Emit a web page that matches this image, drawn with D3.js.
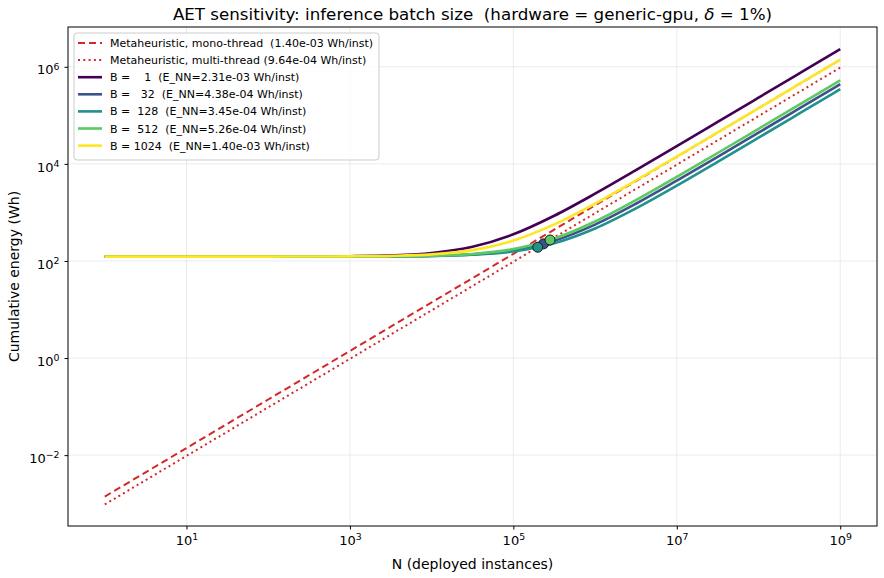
<!DOCTYPE html>
<html>
<head>
<meta charset="utf-8">
<script src="https://cdn.jsdelivr.net/npm/d3@7"></script>
<style>
  body { margin: 0; background: #fff; }
  svg { font-family: "DejaVu Sans", sans-serif; }
  .grid line { stroke: #e6e6e6; stroke-width: 0.8; }
</style>
</head>
<body>
<svg id="chart"></svg>
<script>
// half-decade sample points of N
const nVals = [1, 3.162, 10, 31.62, 100, 316.2, 1000, 3162, 1e4, 3.162e4, 1e5, 3.162e5, 1e6, 3.162e6, 1e7, 3.162e7, 1e8, 3.162e8, 1e9];

const monoVals  = [0.0014, 0.004427, 0.014, 0.04427, 0.14, 0.4427, 1.4, 4.427, 14, 44.27, 140, 442.7, 1400, 4427, 14000, 44272, 140000, 442719, 1400000];
const multiVals = [0.000964, 0.003048, 0.00964, 0.03048, 0.0964, 0.3048, 0.964, 3.048, 9.64, 30.48, 96.4, 304.8, 964, 3048, 9640, 30484, 96400, 304844, 964000];
const b1Vals    = [123, 123.01, 123.02, 123.07, 123.23, 123.73, 125.3, 130.3, 146.1, 196, 354, 853.5, 2433, 7428, 23223, 73171, 231123, 730597, 2310123];
const b32Vals   = [123, 123, 123, 123.01, 123.04, 123.14, 123.44, 124.39, 127.38, 136.85, 166.8, 261.5, 561, 1508, 4503, 13974, 43923, 138631, 438123];
const b128Vals  = [123, 123, 123, 123.01, 123.03, 123.11, 123.35, 124.09, 126.45, 133.9, 157.5, 232.1, 468, 1214, 3573, 11033, 34623, 109222, 345123];
const b512Vals  = [123, 123, 123.01, 123.02, 123.05, 123.17, 123.53, 124.66, 128.26, 139.6, 175.6, 289.3, 649, 1786, 5383, 16757, 52723, 166459, 526123];
const b1024Vals = [123, 123, 123.01, 123.04, 123.14, 123.44, 124.4, 127.4, 137, 167.3, 263, 565.7, 1523, 4550, 14123, 44395, 140123, 442842, 1400123];

const seriesNames = [
  "Metaheuristic, mono-thread  (1.40e-03 Wh/inst)",
  "Metaheuristic, multi-thread (9.64e-04 Wh/inst)",
  "B =    1  (E_NN=2.31e-03 Wh/inst)",
  "B =   32  (E_NN=4.38e-04 Wh/inst)",
  "B =  128  (E_NN=3.45e-04 Wh/inst)",
  "B =  512  (E_NN=5.26e-04 Wh/inst)",
  "B = 1024  (E_NN=1.40e-03 Wh/inst)"
];
const seriesVals = [monoVals, multiVals, b1Vals, b32Vals, b128Vals, b512Vals, b1024Vals];
const seriesColors = ["#d62728", "#d62728", "#440154", "#3b528b", "#21918c", "#5ec962", "#fde725"];
const seriesDash = ["7,4", "2,3.3", null, null, null, null, null];

// break-even points against multi-thread (N, E)
const crossLabels = ["B = 32", "B = 128", "B = 512"];
const crossN = [2.34e5, 1.99e5, 2.81e5];
const crossE = [225, 191.6, 270.6];
const crossColors = ["#3b528b", "#21918c", "#5ec962"];

const xTicks = [1e1, 1e3, 1e5, 1e7, 1e9];
const yTicks = [1e-2, 1e0, 1e2, 1e4, 1e6];

const W = 884, H = 578;
const margin = {top: 27, right: 7, bottom: 52, left: 68};
const width = W - margin.left - margin.right;
const height = H - margin.top - margin.bottom;

const svg = d3.select("#chart").attr("width", W).attr("height", H);

const x = d3.scaleLog().domain([Math.pow(10, -0.45), Math.pow(10, 9.45)]).range([0, width]);
const y = d3.scaleLog().domain([Math.pow(10, -3.46), Math.pow(10, 6.82)]).range([height, 0]);

const g = svg.append("g").attr("transform", "translate(" + margin.left + "," + margin.top + ")");

// grid
const grid = g.append("g").attr("class", "grid");
grid.selectAll(".vx").data(xTicks).join("line")
  .attr("x1", d => x(d)).attr("x2", d => x(d)).attr("y1", 0).attr("y2", height);
grid.selectAll(".hy").data(yTicks).join("line")
  .attr("y1", d => y(d)).attr("y2", d => y(d)).attr("x1", 0).attr("x2", width);

const clip = g.append("clipPath").attr("id", "clip").append("rect").attr("width", width).attr("height", height);
const plot = g.append("g").attr("clip-path", "url(#clip)");

const line = d3.line()
  .x(d => x(d[0])).y(d => y(d[1]))
  .curve(d3.curveMonotoneX);

seriesVals.forEach(function(vals, i) {
  plot.append("path")
    .datum(nVals.map((n, j) => [n, vals[j]]))
    .attr("fill", "none")
    .attr("stroke", seriesColors[i])
    .attr("stroke-width", i < 2 ? 2 : 2.6)
    .attr("stroke-dasharray", seriesDash[i])
    .attr("d", line);
});

plot.selectAll("circle").data(crossN).join("circle")
  .attr("cx", d => x(d))
  .attr("cy", (d, i) => y(crossE[i]))
  .attr("r", 5)
  .attr("fill", (d, i) => crossColors[i])
  .attr("stroke", "#1a1a1a")
  .attr("stroke-width", 1);

// axes
function supLabel(sel, d) {
  const e = Math.round(Math.log10(d));
  sel.text("");
  sel.append("tspan").text("10");
  sel.append("tspan").attr("dy", "-0.5em").attr("font-size", "0.72em").text(e < 0 ? "\u2212" + (-e) : e);
}

const xAxis = g.append("g").attr("transform", "translate(0," + height + ")")
  .call(d3.axisBottom(x).tickValues(xTicks).tickSize(3.5).tickPadding(6));
xAxis.selectAll(".tick text").each(function(d) { supLabel(d3.select(this), d); })
  .attr("font-size", 13).attr("fill", "#000").attr("font-family", "DejaVu Sans");
xAxis.select(".domain").remove();

const yAxis = g.append("g")
  .call(d3.axisLeft(y).tickValues(yTicks).tickSize(3.5).tickPadding(5));
yAxis.selectAll(".tick text").each(function(d) { supLabel(d3.select(this), d); })
  .attr("font-size", 13).attr("fill", "#000").attr("font-family", "DejaVu Sans").attr("dy", "0.55em");
yAxis.select(".domain").remove();

g.append("rect").attr("width", width).attr("height", height)
  .attr("fill", "none").attr("stroke", "#000").attr("stroke-width", 1);

// labels
svg.append("text").attr("x", margin.left + width / 2).attr("y", 19.5)
  .attr("text-anchor", "middle").attr("font-size", 16.7)
  .html("AET sensitivity: inference batch size&#160;&#160;(hardware = generic-gpu, <tspan font-style='italic'>\u03b4</tspan> = 1%)");

svg.append("text").attr("x", margin.left + width / 2).attr("y", 569)
  .attr("text-anchor", "middle").attr("font-size", 14).text("N (deployed instances)");

svg.append("text").attr("transform", "translate(19," + (margin.top + height / 2) + ") rotate(-90)")
  .attr("text-anchor", "middle").attr("font-size", 14).text("Cumulative energy (Wh)");

// legend
const leg = g.append("g").attr("transform", "translate(6,6)");
leg.append("rect").attr("width", 305).attr("height", 127).attr("rx", 3)
  .attr("fill", "#fff").attr("fill-opacity", 0.8).attr("stroke", "#ccc");
seriesNames.forEach(function(name, i) {
  const ry = 10 + i * 17.1;
  leg.append("line").attr("x1", 4).attr("x2", 28).attr("y1", ry).attr("y2", ry)
    .attr("stroke", seriesColors[i]).attr("stroke-width", i < 2 ? 2 : 2.6)
    .attr("stroke-dasharray", seriesDash[i]);
  leg.append("text").attr("x", 36).attr("y", ry + 4).attr("font-size", 11)
    .style("white-space", "pre").text(name);
});
</script>
</body>
</html>
